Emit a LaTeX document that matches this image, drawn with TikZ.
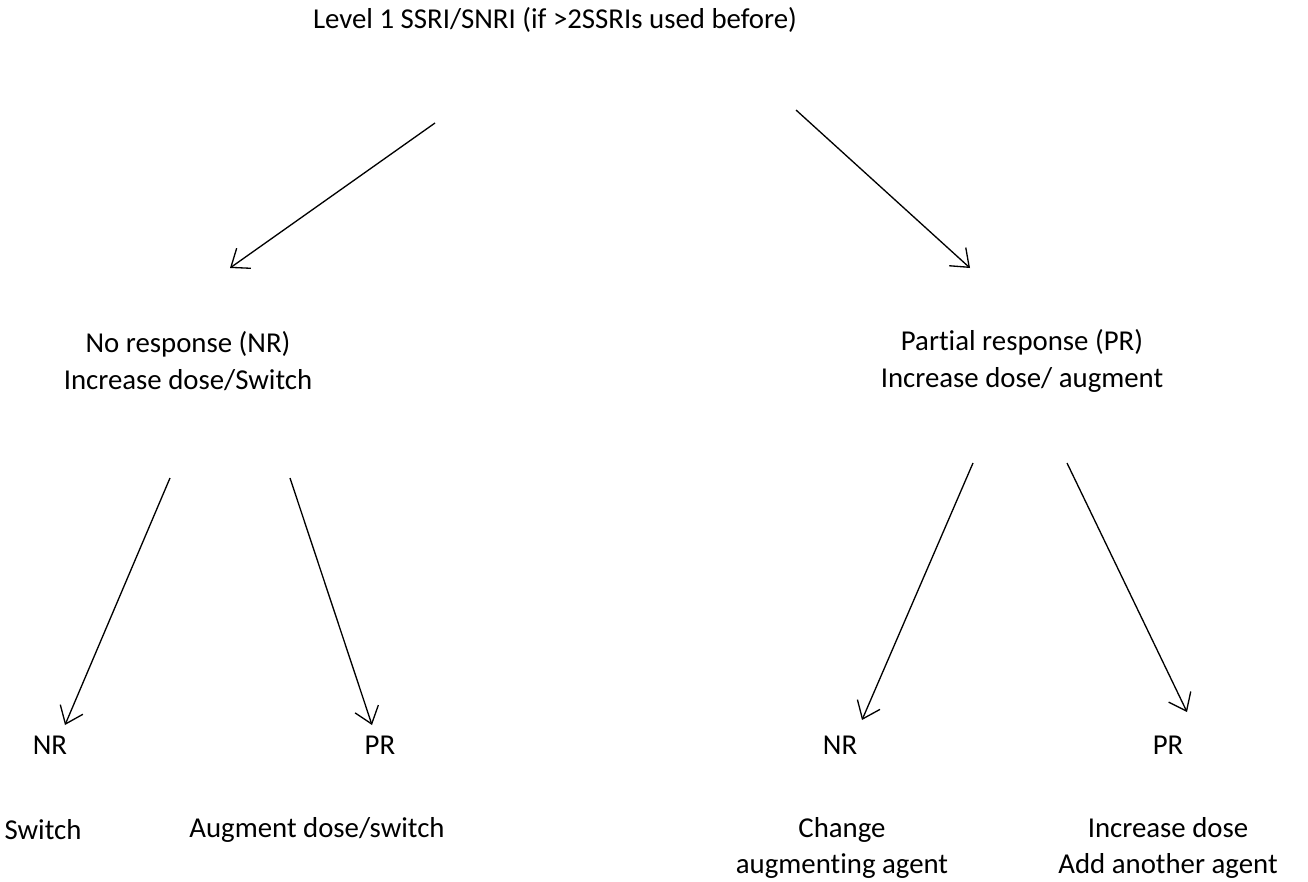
\documentclass[tikz,border=0pt]{standalone}
\usepackage{fontspec}
\setmainfont{Carlito}[Ligatures={NoCommon,NoContextual,NoRare},RawFeature={-liga;-clig;-dlig;-calt}]
\usetikzlibrary{arrows.meta}

\begin{document}
\begin{tikzpicture}[x=0.02cm,y=-0.02cm,
    font=\fontsize{16.4}{21}\selectfont,
    lbl/.style={inner sep=0pt,align=center},
    arr/.style={-{Straight Barb[length=9pt,width=14pt]},line width=0.75pt}]
  \useasboundingbox (0,0) rectangle (1308,882);

  % labels
  \node[lbl] (top) at (555,20) {Level 1 SSRI/SNRI (if >2SSRIs used before)};
  \node[lbl] (nr) at (188,361) {No response (NR)\\Increase dose/Switch};
  \node[lbl] (pr) at (1022,361) {Partial response (PR)\\Increase dose/ augment};
  \node[lbl] (nrnr) at (50,745) {NR};
  \node[lbl] (nrnrtxt) at (43,830) {Switch};
  \node[lbl] (nrpr) at (380,745) {PR};
  \node[lbl] (nrprtxt) at (317,830) {Augment dose/switch};
  \node[lbl] (prnr) at (840,745) {NR};
  \node[lbl] (prnrtxt) at (842,848) {Change\\augmenting agent};
  \node[lbl] (prpr) at (1168,745) {PR};
  \node[lbl] (prprtxt) at (1168,848) {Increase dose\\Add another agent};

  % arrow ends
  \coordinate (topL) at (435,123);   \coordinate (nrIn) at (230,268);
  \coordinate (topR) at (796,110);   \coordinate (prIn) at (970,268);
  \coordinate (nrL) at (170,478);    \coordinate (nrnrIn) at (65,725);
  \coordinate (nrR) at (290,478);    \coordinate (nrprIn) at (372,725);
  \coordinate (prL) at (973,463);    \coordinate (prnrIn) at (862,720);
  \coordinate (prR) at (1067,463);   \coordinate (prprIn) at (1187,712);

  \foreach \a/\b in {topL/nrIn, topR/prIn, nrL/nrnrIn, nrR/nrprIn, prL/prnrIn, prR/prprIn}
    \draw[arr] (\a) -- (\b);
\end{tikzpicture}
\end{document}
